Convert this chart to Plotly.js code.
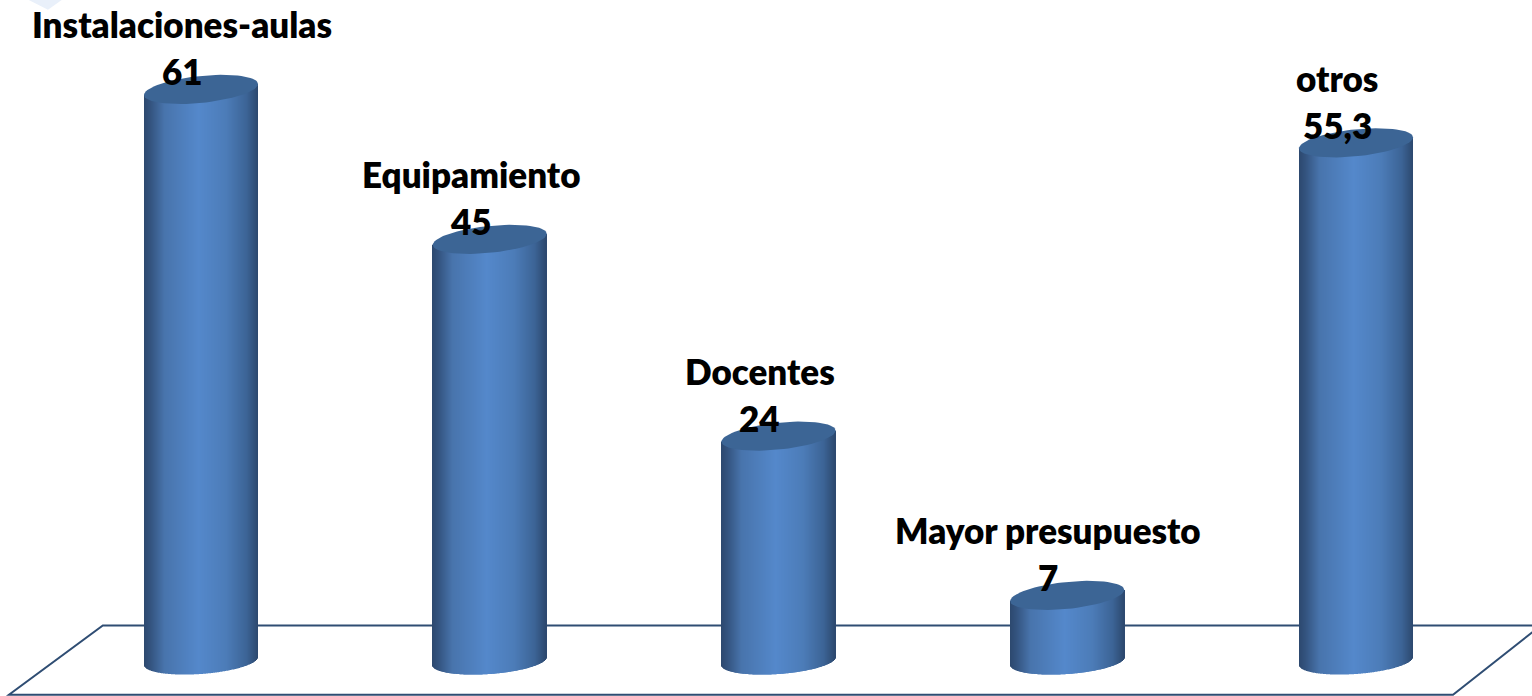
<!DOCTYPE html>
<html>
<head>
<meta charset="utf-8">
<script src="https://cdn.plot.ly/plotly-3.0.1.min.js"></script>
<style>html,body{margin:0;padding:0;background:#fff;overflow:hidden}#chart{width:1532px;height:696px}</style>
</head>
<body>
<div id="chart"></div>
<script>
var categories = ["Instalaciones-aulas", "Equipamiento", "Docentes", "Mayor presupuesto", "otros"];
var values = [61, 45, 24, 7, 55.3];
var valueLabels = ["61", "45", "24", "7", "55,3"];

var floorX = [-0.34, 4.64, 4.336, -0.665];
var floorY = [3.79, 3.79, -3.6, -3.6];
var cornerX = [-0.6, -0.53, -0.48];
var cornerY = [70.6, 69.5, 70.6];

var W = 1532, H = 696;
var pxX = 288.75, pxY = 9.37;          // pixels per axis unit
var xRange = [-201 / pxX, (W - 201) / pxX];
var yRange = [-(H - 661) / pxY, 661 / pxY];

var halfW = 57 / pxX;
var strips = 114;
var stops = [[0, [44,72,110]], [0.06, [52,84,128]], [0.18, [72,116,172]], [0.48, [84,136,203]],
             [0.72, [76,124,184]], [0.9, [60,100,150]], [1, [44,72,110]]];
function shade(f) {
  for (var i = 1; i < stops.length; i++) {
    if (f <= stops[i][0]) {
      var a = stops[i-1], b = stops[i], k = (f - a[0]) / (b[0] - a[0]);
      return "rgb(" + a[1].map(function (c, j) { return Math.round(c + (b[1][j] - c) * k); }).join(",") + ")";
    }
  }
  return "rgb(44,72,110)";
}

var bx = [], by = [], bb = [], bw = [], bc = [];
values.forEach(function (v, i) {
  for (var s = 0; s < strips; s++) {
    var f = (s + 0.5) / strips, t = 2 * f - 1;
    var low = -(-4 * t + 13 * Math.sqrt(1 - t * t)) / pxY;
    var top = v + (5.5 * t) / pxY;
    bx.push(i + t * halfW);
    bb.push(low);
    by.push(top - low);
    bw.push(2 * halfW / strips);
    bc.push(shade(f));
  }
});

var traces = [{
  type: "bar", x: bx, y: by, base: bb, width: bw,
  marker: { color: bc, line: { width: 0 } },
  hoverinfo: "skip", showlegend: false
}];

values.forEach(function (v, i) {
  var ex = [], ey = [];
  for (var d = 0; d <= 72; d++) {
    var th = d * Math.PI / 36;
    ex.push(i + halfW * Math.cos(th));
    ey.push(v + (13.5 * Math.sin(th) + 5.5 * Math.cos(th)) / pxY);
  }
  traces.push({
    type: "scatter", mode: "lines", x: ex, y: ey, fill: "toself",
    fillcolor: "#3c6595", line: { width: 0, color: "#3c6595" },
    hoverinfo: "skip", showlegend: false
  });
});

var font = { family: "Lato, sans-serif", size: 35, color: "#000", weight: 800 };
var annotations = [];
categories.forEach(function (c, i) {
  var base = { x: i, y: values[i], xref: "x", yref: "y", xshift: -19, showarrow: false,
               xanchor: "center", yanchor: "middle", font: font };
  annotations.push(Object.assign({}, base, { text: c, yshift: 65 }));
  annotations.push(Object.assign({}, base, { text: valueLabels[i], yshift: 18 }));
});

function pathOf(xs, ys) {
  return xs.map(function (x, i) { return (i ? "L" : "M") + x + "," + ys[i]; }).join(" ") + " Z";
}

var layout = {
  width: W, height: H,
  margin: { l: 0, r: 0, t: 0, b: 0, pad: 0 },
  paper_bgcolor: "#fff", plot_bgcolor: "#fff",
  showlegend: false, barmode: "overlay",
  xaxis: { range: xRange, visible: false, fixedrange: true },
  yaxis: { range: yRange, visible: false, fixedrange: true },
  shapes: [
    { type: "path", path: pathOf(floorX, floorY), xref: "x", yref: "y", layer: "below",
      line: { color: "#2f4d73", width: 2 } },
    { type: "path", path: pathOf(cornerX, cornerY), xref: "x", yref: "y", layer: "below",
      fillcolor: "#e9f0fa", line: { width: 0 } }
  ],
  annotations: annotations
};

Plotly.newPlot("chart", traces, layout, { displayModeBar: false, responsive: false });
</script>
</body>
</html>
